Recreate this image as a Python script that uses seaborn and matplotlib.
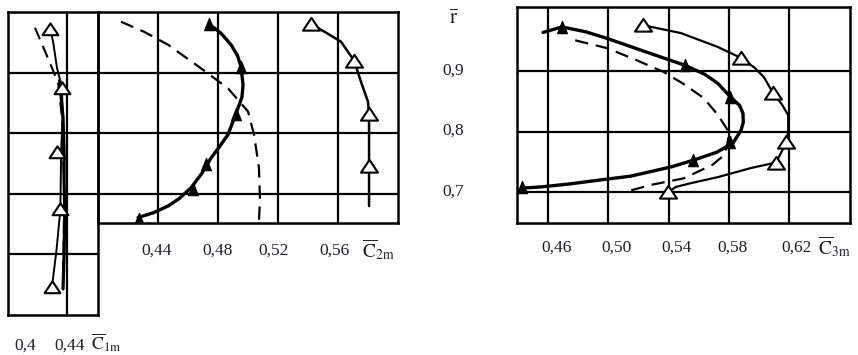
import numpy as np
import pandas as pd
import matplotlib
matplotlib.use("Agg")
import matplotlib.pyplot as plt
from matplotlib.path import Path
import seaborn as sns

# ---------------- data ----------------
# Panel 1 : C1m
c1_open_line_c = [0.4285, 0.4305, 0.4332, 0.4366, 0.4370, 0.4360, 0.4355, 0.4330, 0.4298]
c1_open_line_r = [0.972, 0.952, 0.908, 0.875, 0.826, 0.770, 0.675, 0.610, 0.546]
c1_open_mk_c = [0.4285, 0.4366, 0.4330, 0.4355, 0.4298]
c1_open_mk_r = [0.972, 0.875, 0.769, 0.675, 0.546]
c1_fill_line_c = [0.4350, 0.4373, 0.4380, 0.4380, 0.4385, 0.4380, 0.4373]
c1_fill_line_r = [0.887, 0.826, 0.770, 0.718, 0.674, 0.600, 0.543]
c1_dash_c = [0.4183, 0.4298, 0.4340, 0.4366, 0.4380, 0.4380, 0.4373]
c1_dash_r = [0.974, 0.908, 0.882, 0.826, 0.718, 0.674, 0.543]

# Panel 2 : C2m
c2_fill_line_c = [0.4740, 0.4820, 0.4887, 0.4930, 0.4953, 0.4967, 0.4960, 0.4933, 0.4867,
                  0.4810, 0.4753, 0.4690, 0.4620, 0.4540, 0.4467, 0.4370, 0.4267]
c2_fill_line_r = [0.980, 0.965, 0.946, 0.928, 0.910, 0.880, 0.860, 0.841, 0.798,
                  0.778, 0.759, 0.733, 0.710, 0.692, 0.680, 0.669, 0.661]
c2_fill_mk_c = [0.474, 0.495, 0.492, 0.472, 0.463, 0.427]
c2_fill_mk_r = [0.980, 0.910, 0.831, 0.749, 0.708, 0.659]
c2_dash_c = [0.4153, 0.4310, 0.4467, 0.4687, 0.4867, 0.5000, 0.5040, 0.5073, 0.5080, 0.5073]
c2_dash_r = [0.984, 0.967, 0.946, 0.907, 0.874, 0.836, 0.798, 0.743, 0.689, 0.656]
c2_open_line_c = [0.542, 0.552, 0.562, 0.5707, 0.5753, 0.5800, 0.5807, 0.5807, 0.5807]
c2_open_line_r = [0.980, 0.966, 0.951, 0.920, 0.885, 0.852, 0.831, 0.746, 0.680]
c2_open_mk_c = [0.542, 0.5707, 0.5807, 0.5807]
c2_open_mk_r = [0.980, 0.920, 0.831, 0.746]

# Panel 3 : C3m
c3_fill_line_c = [0.4567, 0.4693, 0.4850, 0.4993, 0.5260, 0.5507, 0.5640, 0.5727, 0.5813,
                  0.5870, 0.5893, 0.5895, 0.5880, 0.5827, 0.5720, 0.5567, 0.5420, 0.5280,
                  0.5147, 0.5013, 0.4750, 0.4560, 0.4433, 0.4393]
c3_fill_line_r = [0.963, 0.972, 0.964, 0.953, 0.930, 0.909, 0.894, 0.879, 0.856,
                  0.843, 0.830, 0.815, 0.802, 0.781, 0.766, 0.753, 0.742, 0.734,
                  0.7265, 0.7224, 0.714, 0.709, 0.707, 0.700]
c3_fill_mk_c = [0.469, 0.551, 0.581, 0.581, 0.556, 0.443]
c3_fill_mk_r = [0.972, 0.909, 0.856, 0.782, 0.753, 0.708]
c3_dash_c = [0.4780, 0.4993, 0.5180, 0.5367, 0.5500, 0.5633, 0.5727, 0.5800, 0.5790,
             0.5767, 0.5690, 0.5500, 0.5280, 0.5147]
c3_dash_r = [0.950, 0.937, 0.918, 0.898, 0.878, 0.855, 0.827, 0.799, 0.780,
             0.761, 0.745, 0.723, 0.712, 0.703]
c3_open_line_c = [0.5227, 0.5480, 0.5727, 0.5880, 0.5970, 0.6033, 0.6093, 0.6150, 0.6193,
                  0.6193, 0.6180, 0.6113, 0.5947, 0.5727, 0.5547, 0.5450, 0.5393]
c3_open_line_r = [0.975, 0.962, 0.939, 0.921, 0.905, 0.889, 0.863, 0.845, 0.827,
                  0.799, 0.782, 0.749, 0.740, 0.725, 0.715, 0.709, 0.700]
c3_open_mk_c = [0.5227, 0.588, 0.6093, 0.618, 0.6113, 0.5393]
c3_open_mk_r = [0.975, 0.921, 0.863, 0.782, 0.749, 0.700]

# tick labels
c1_ticks = ["0,4", "0,44"]
c2_ticks = ["0,44", "0,48", "0,52", "0,56"]
c3_ticks = ["0,46", "0,50", "0,54", "0,58", "0,62"]
r_ticks = ["0,9", "0,8", "0,7"]

# ---------------- styling ----------------
sns.set_theme(style="white")
plt.rcParams["font.family"] = ["Liberation Serif", "DejaVu Serif"]
plt.rcParams["mathtext.fontset"] = "stix"

W, H = 858, 355
fig = plt.figure(figsize=(W / 100, H / 100), dpi=100)
fig.patch.set_facecolor("white")

def rect(x0, y0, x1, y1):
    return [x0 / W, 1 - y1 / H, (x1 - x0) / W, (y1 - y0) / H]

def fxy(x, y):
    return x / W, 1 - y / H

TXT = "#1e1e28"
GLW = 1.6
open_tri = Path([(-1, -0.72), (1, -0.72), (0, 0.78), (-1, -0.72)],
                [Path.MOVETO, Path.LINETO, Path.LINETO, Path.CLOSEPOLY])
fill_tri = Path([(-0.8, -1), (0.8, -1), (0, 1), (-0.8, -1)],
                [Path.MOVETO, Path.LINETO, Path.LINETO, Path.CLOSEPOLY])

def setup(ax, xlim, ylim, xg, yg):
    ax.set_xlim(*xlim)
    ax.set_ylim(*ylim)
    ax.set_xticks(xg)
    ax.set_yticks(yg)
    ax.set_xticklabels([])
    ax.set_yticklabels([])
    ax.tick_params(length=0)
    ax.grid(True, color="black", lw=GLW)
    ax.set_axisbelow(True)
    for s in ax.spines.values():
        s.set_color("black")
        s.set_linewidth(GLW + 0.2)
        s.set_visible(True)
    ax.set_facecolor("none")
    ax.set_xlabel("")
    ax.set_ylabel("")

def curve(ax, c, r, lw, dashed=False):
    df = pd.DataFrame({"c": c, "r": r})
    sns.lineplot(data=df, x="c", y="r", color="black", lw=lw, sort=False,
                 estimator=None, ax=ax)
    ax.lines[-1].set_solid_joinstyle("round")
    if dashed:
        ax.lines[-1].set_dashes((6, 3.5))

def marks(ax, c, r, filled, size):
    df = pd.DataFrame({"c": c, "r": r})
    sns.scatterplot(data=df, x="c", y="r", ax=ax, marker=fill_tri if filled else open_tri,
                    s=size, color="black", zorder=5)
    coll = ax.collections[-1]
    coll.set_edgecolor("black")
    coll.set_facecolor("black" if filled else "white")
    coll.set_linewidth(0.8 if filled else 1.5)

# Panel 1
ax1 = fig.add_axes(rect(8, 12, 98, 315))
curve(ax1, c1_dash_c, c1_dash_r, 1.5, dashed=True)
curve(ax1, c1_fill_line_c, c1_fill_line_r, 2.3)
curve(ax1, c1_open_line_c, c1_open_line_r, 1.4)
marks(ax1, c1_open_mk_c, c1_open_mk_r, False, 130)
setup(ax1, (0.40, 0.4610), (0.5, 1.0), [0.44], [0.6, 0.7, 0.8, 0.9])

# Panel 2
ax2 = fig.add_axes(rect(98, 12, 398, 223))
curve(ax2, c2_dash_c, c2_dash_r, 1.6, dashed=True)
curve(ax2, c2_fill_line_c, c2_fill_line_r, 2.4)
curve(ax2, c2_open_line_c, c2_open_line_r, 1.8)
marks(ax2, c2_fill_mk_c, c2_fill_mk_r, True, 80)
marks(ax2, c2_open_mk_c, c2_open_mk_r, False, 150)
setup(ax2, (0.40, 0.60), (0.652, 1.0), [0.44, 0.48, 0.52, 0.56], [0.7, 0.8, 0.9])

# Panel 3
ax3 = fig.add_axes(rect(517, 7, 850, 223))
curve(ax3, c3_dash_c, c3_dash_r, 1.6, dashed=True)
curve(ax3, c3_fill_line_c, c3_fill_line_r, 2.4)
curve(ax3, c3_open_line_c, c3_open_line_r, 1.6)
marks(ax3, c3_fill_mk_c, c3_fill_mk_r, True, 80)
marks(ax3, c3_open_mk_c, c3_open_mk_r, False, 150)
setup(ax3, (0.4394, 0.6603), (0.6495, 1.0048), [0.46, 0.50, 0.54, 0.58, 0.62], [0.7, 0.8, 0.9])

# ---------------- texts ----------------
FS = 12.5
def t(x, y, s, fs=FS, ha="center"):
    fig.text(*fxy(x, y), s, fontsize=fs, color=TXT, ha=ha, va="center")

# C1m axis labels
t(25, 346, c1_ticks[0])
t(70, 346, c1_ticks[1])
t(91, 343, r"$\overline{\mathrm{C}}_{\mathrm{1m}}$", fs=13, ha="left")

# C2m axis labels
for x, s in zip([157, 218, 274, 335], c2_ticks):
    t(x, 251, s)
t(362, 250, r"$\overline{\mathrm{C}}_{\mathrm{2m}}$", fs=14, ha="left")

# C3m axis labels
for x, s in zip([557, 617, 677, 733, 797], c3_ticks):
    t(x, 248, s)
t(818, 247, r"$\overline{\mathrm{C}}_{\mathrm{3m}}$", fs=14, ha="left")

# r axis labels
t(454, 19, r"$\overline{\mathrm{r}}$", fs=15)
for y, s in zip([71, 131, 192], r_ticks):
    t(453, y, s)

fig.savefig("out.png", dpi=100, facecolor="white")
